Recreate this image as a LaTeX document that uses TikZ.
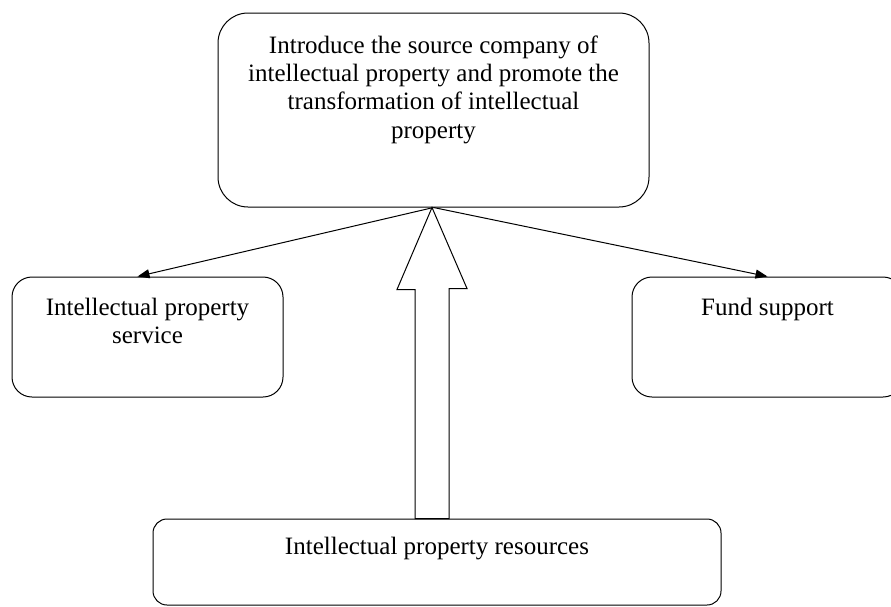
\documentclass[tikz,border=0pt]{standalone}
\usepackage{fontspec}
\setmainfont{Liberation Serif}
\usetikzlibrary{positioning,arrows.meta}
\tikzset{
  box/.style={draw, line width=1pt, inner sep=0pt},
  txt/.style={inner sep=0pt, align=center, font=\fontsize{25}{28.3}\selectfont},
  flow/.style={line width=1pt, -{Triangle[length=12pt,width=9pt]}},
  bigarrow/.style={draw, fill=white, line width=1pt, line join=miter}
}
\begin{document}
\begin{tikzpicture}[x=1pt, y=-1pt]
\useasboundingbox (0,0) rectangle (891,606);
\fill[white] (0,0) rectangle (891,606);
\clip (0,0) rectangle (891,606);
\node[box, rounded corners=30pt, minimum width=431pt, minimum height=194pt] (src) at (433.5,110) {};
\node[txt, below=23pt of src.north] (srctxt) {Introduce the source company of\\intellectual property and promote the\\transformation of intellectual\\property};
\node[box, rounded corners=20pt, minimum width=271pt, minimum height=120pt] (ips) at (147.5,337) {};
\node[txt, below=21pt of ips.north] (ipstxt) {Intellectual property\\service};
\node[box, rounded corners=20pt, minimum width=271pt, minimum height=120pt] (fund) at (767.5,337) {};
\node[txt, below=21pt of fund.north] (fundtxt) {Fund support};
\node[box, rounded corners=14pt, minimum width=568pt, minimum height=86pt] (res) at (437,562) {};
\node[txt, below=18pt of res.north] (restxt) {Intellectual property resources};
% thin arrows out of the top box
\draw[flow] (src.south) -- ([xshift=-10pt]ips.north);
\draw[flow] (src.south) -- (fund.north);
% hollow block arrow up from the resources
\coordinate (tip) at ([xshift=-1.5pt]src.south);
\draw[bigarrow] (tip) -- ++(-35,82) -- ++(18,0) |- ([xshift=17pt]tip |- res.north) -- ++(0,-230) -- ++(18,0) -- cycle;
\end{tikzpicture}
\end{document}
